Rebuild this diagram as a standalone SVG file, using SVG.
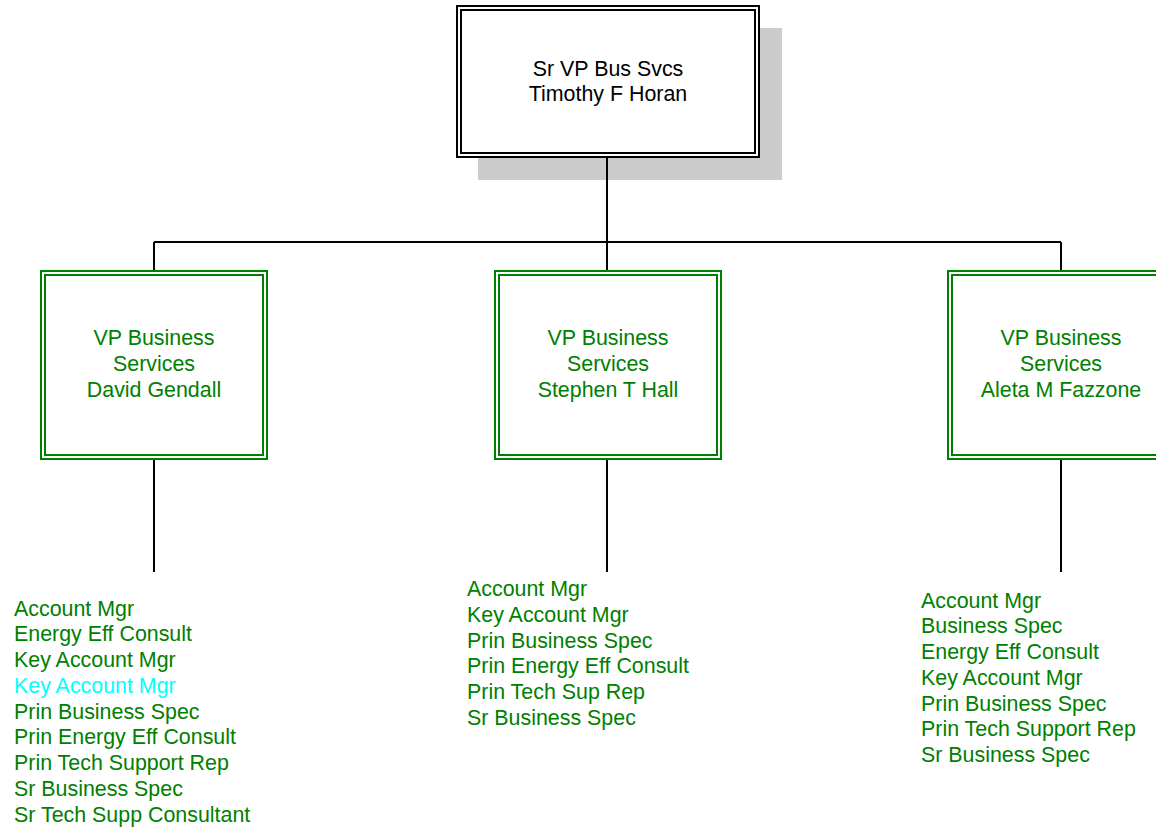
<svg xmlns="http://www.w3.org/2000/svg" width="1156" height="828" viewBox="0 0 1156 828">
<style>
.bg{fill:#ffffff}
.sh{fill:#cccccc}
.ob{fill:#ffffff;stroke:#000000;stroke-width:2}
.ib{fill:none;stroke:#000000;stroke-width:2}
.og{fill:#ffffff;stroke:#008000;stroke-width:2}
.ig{fill:none;stroke:#008000;stroke-width:2}
.t{font-family:"Liberation Sans",Arial,sans-serif;font-size:21.4px}
.c{text-anchor:middle}
.k{fill:#000000}
.g{fill:#008000}
.cy{fill:#00ffff}
.ln{stroke:#000000;stroke-width:2;fill:none}
</style>
<rect class="bg" x="0" y="0" width="1156" height="828"/>
<g id="node-top">
<rect class="sh" x="478" y="28" width="304" height="152"/>
<rect class="ob" x="457" y="6" width="302" height="151"/>
<rect class="ib" x="461" y="10" width="294" height="143"/>
<text class="t c k" x="608" y="76">Sr VP Bus Svcs</text>
<text class="t c k" x="608" y="101">Timothy F Horan</text>
</g>
<g id="node-gendall">
<rect class="og" x="41" y="271" width="226" height="188"/>
<rect class="ig" x="45" y="275" width="218" height="180"/>
<text class="t c g" x="154" y="345">VP Business</text>
<text class="t c g" x="154" y="371">Services</text>
<text class="t c g" x="154" y="397">David Gendall</text>
</g>
<g id="node-hall">
<rect class="og" x="495" y="271" width="226" height="188"/>
<rect class="ig" x="499" y="275" width="218" height="180"/>
<text class="t c g" x="608" y="345">VP Business</text>
<text class="t c g" x="608" y="371">Services</text>
<text class="t c g" x="608" y="397">Stephen T Hall</text>
</g>
<g id="node-fazzone">
<rect class="og" x="948" y="271" width="226" height="188"/>
<rect class="ig" x="952" y="275" width="218" height="180"/>
<text class="t c g" x="1061" y="345">VP Business</text>
<text class="t c g" x="1061" y="371">Services</text>
<text class="t c g" x="1061" y="397">Aleta M Fazzone</text>
</g>
<g id="connectors">
<path class="ln" d="M607 158 V242 M154 242 H1061 M154 242 V270 M607 242 V270 M1061 242 V270 M154 460 V572 M607 460 V572 M1061 460 V572"/>
</g>
<g id="list-gendall">
<text class="t g" x="14" y="615.5">Account Mgr</text>
<text class="t g" x="14" y="641.2">Energy Eff Consult</text>
<text class="t g" x="14" y="667">Key Account Mgr</text>
<text class="t cy" x="14" y="692.7">Key Account Mgr</text>
<text class="t g" x="14" y="718.5">Prin Business Spec</text>
<text class="t g" x="14" y="744.2">Prin Energy Eff Consult</text>
<text class="t g" x="14" y="770">Prin Tech Support Rep</text>
<text class="t g" x="14" y="795.7">Sr Business Spec</text>
<text class="t g" x="14" y="821.5">Sr Tech Supp Consultant</text>
</g>
<g id="list-hall">
<text class="t g" x="467" y="596">Account Mgr</text>
<text class="t g" x="467" y="621.7">Key Account Mgr</text>
<text class="t g" x="467" y="647.5">Prin Business Spec</text>
<text class="t g" x="467" y="673.2">Prin Energy Eff Consult</text>
<text class="t g" x="467" y="699">Prin Tech Sup Rep</text>
<text class="t g" x="467" y="724.7">Sr Business Spec</text>
</g>
<g id="list-fazzone">
<text class="t g" x="921" y="607.5">Account Mgr</text>
<text class="t g" x="921" y="633.2">Business Spec</text>
<text class="t g" x="921" y="659">Energy Eff Consult</text>
<text class="t g" x="921" y="684.7">Key Account Mgr</text>
<text class="t g" x="921" y="710.5">Prin Business Spec</text>
<text class="t g" x="921" y="736.2">Prin Tech Support Rep</text>
<text class="t g" x="921" y="762">Sr Business Spec</text>
</g>
</svg>
